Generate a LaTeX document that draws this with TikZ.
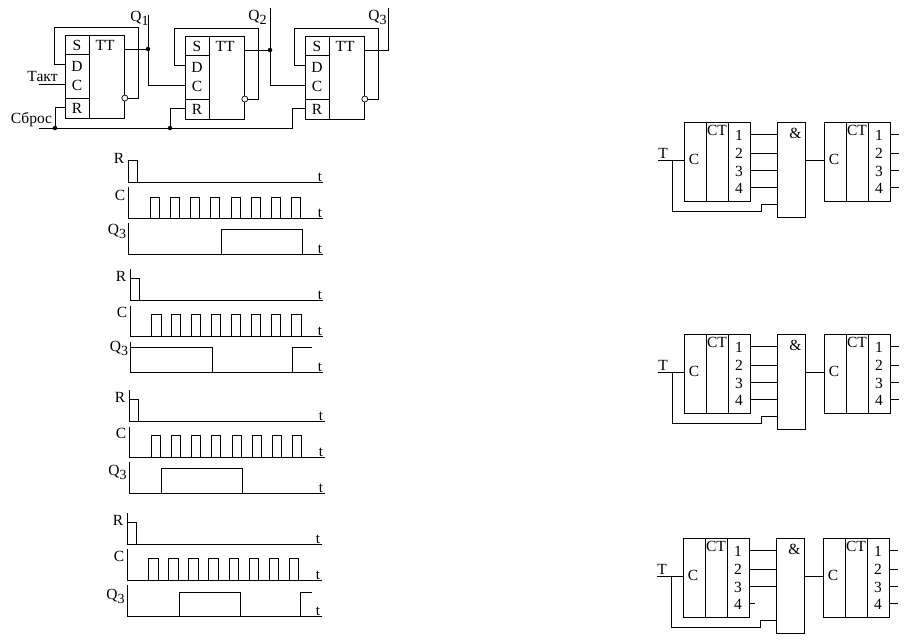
\documentclass[tikz,border=0pt]{standalone}
\usepackage{fontspec}
\setmainfont{Liberation Serif}
\usetikzlibrary{positioning,calc}
\tikzstyle{wire} = [line width=0.8pt,color=black]
\tikzstyle{lbl} = [inner sep=0pt, font=\fontsize{15.5}{15.5}\selectfont]
\tikzstyle{tlbl} = [inner sep=0pt, font=\fontsize{15}{15}\selectfont]
\tikzstyle{ffbox} = [rectangle, draw, line width=0.8pt, anchor=north west, inner sep=0pt, minimum width=59pt, minimum height=83pt]
\tikzstyle{ctrbox} = [rectangle, draw, line width=0.8pt, anchor=north west, inner sep=0pt, minimum width=66pt, minimum height=79pt]
\tikzstyle{andbox} = [rectangle, draw, line width=0.8pt, anchor=north west, inner sep=0pt, minimum width=28pt, minimum height=95pt]
\tikzstyle{junction} = [circle, fill=black, inner sep=0pt, minimum size=4.5pt]
\tikzstyle{bubble} = [circle, draw, fill=white, line width=0.7pt, inner sep=0pt, minimum size=6pt]
\newcommand{\qsub}[1]{Q\raisebox{-4pt}{\fontsize{14}{14}\selectfont #1}}

\begin{document}
\begin{tikzpicture}[x=1pt,y=-1pt]
\useasboundingbox (0,0) rectangle (910,641);

% trigger chain
\foreach \n/\fx/\fy in {1/65/35,2/185/36,3/305/36} {
  \node[ffbox] (ff\n) at (\fx,\fy) {};
  \draw[wire] ($(ff\n.north west)+(24.5,0)$) -- ($(ff\n.south west)+(24.5,0)$);
  \draw[wire] ($(ff\n.north west)+(0,19.5)$) -- ($(ff\n.north west)+(24.5,19.5)$);
  \draw[wire] ($(ff\n.north west)+(0,63)$) -- ($(ff\n.north west)+(24.5,63)$);
  \foreach \txt/\xo/\yo in {S/12/10,TT/40/10,D/12/31,C/12/50,R/12/73} {
    \node[lbl] (ff\n\txt) at ($(ff\n.north west)+(\xo,\yo)$) {\txt};
  }
  \coordinate (d\n) at ($(ff\n.north west)+(0,29)$);
  \coordinate (c\n) at ($(ff\n.north west)+(0,49)$);
  \coordinate (r\n) at ($(ff\n.north west)+(0,72)$);
  \coordinate (q\n) at ($(ff\n.north east)+(0,14)$);
  \node[bubble] (nq\n) at ($(ff\n.north east)+(0,63)$) {};
  \draw[wire] (nq\n.east) -- ++(10,0) -- ++(0,-71) -- ++(-84,0) |- (d\n);
}
\node[junction] (j1) at (148,49) {};
\node[junction] (j2) at (270,50) {};
\node[junction] (j3) at (55,128) {};
\node[junction] (j4) at (170,128) {};
\coordinate (qe1) at (148,15);
\coordinate (qe2) at (270,8);
\coordinate (qe3) at (388,8);
\coordinate (tk) at (39,84);
\coordinate (rs) at (39,128);
\draw[wire] (q1) -- (j1);
\draw[wire] (q2) -- (j2);
\draw[wire] (j1) -- (qe1);
\draw[wire] (j2) -- (qe2);
\draw[wire] (q3) -| (qe3);
\draw[wire] (j1) |- (c2);
\draw[wire] (j2) |- (c3);
\draw[wire] (tk) -- (c1);
\draw[wire] (rs) -| ($(r3)+(-13,0)$) -- (r3);
\draw[wire] (j3) |- (r1);
\draw[wire] (j4) |- (r2);
\node[lbl] (takt) at (42.5,76) {Такт};
\node[lbl] (sbros) at (31.5,120) {Сброс};
\node[lbl] (q1l) at (139.5,18) {\qsub{1}};
\node[lbl] (q2l) at (257.5,17) {\qsub{2}};
\node[lbl] (q3l) at (377.5,17) {\qsub{3}};

% timing charts
\foreach \g/\ax/\ex/\rt/\rh/\rb/\ct/\ch/\cb/\qt/\qb/\tx/\plist in {
  1/128/323/160/160/182/187/197/218/223/254/320/{150,170,190,210.3,231,251,271,291.3},
  2/130/323/269/278/300/306/314/336/342/372/320/{151.7,171.3,191.3,211.3,231.3,251.3,271.3,291.7},
  3/129/325/390/399/421/427/435/457/462/493/321/{151,171,191,211,232,252,272,292},
  4/127/322/513/522/544/549/558/580/585/616/318/{148.7,168.7,188.7,208.7,229.3,249.3,269.3,289.3}} {
  \draw[wire] (\ax,\rt) |- (\ex,\rb);
  \draw[wire] (\ax,\rh) -- (\ax+9,\rh) -- (\ax+9,\rb);
  \draw[wire] (\ax,\ct) |- (\ex,\cb);
  \foreach \p in \plist {
    \draw[wire] (\p,\cb) |- (\p+9.3,\ch) -- (\p+9.3,\cb);
  }
  \draw[wire] (\ax,\qt) |- (\ex,\qb);
  \node[lbl] (lr\g) at (\ax-9,\rh-2) {R};
  \node[lbl] (lc\g) at (\ax-8,\ch-2) {C};
  \node[tlbl] (tr\g) at (\tx,\rb-5) {t};
  \node[tlbl] (tc\g) at (\tx,\cb-5) {t};
  \node[tlbl] (tq\g) at (\tx,\qb-5) {t};
}
\draw[wire] (221,254) |- (302,229) -- (302,254);
\draw[wire] (130,347) -| (212,372);
\draw[wire] (292,372) |- (312,347);
\draw[wire] (161,493) |- (242,468) -- (242,493);
\draw[wire] (179,616) |- (240,592) -- (240,616);
\draw[wire] (300,616) |- (312,592);
\node[lbl] (lq1) at (117,231) {\qsub{3}};
\node[lbl] (lq2) at (119,348) {\qsub{3}};
\node[lbl] (lq3) at (117.5,472) {\qsub{3}};
\node[lbl] (lq4) at (115.5,596) {\qsub{3}};

% counters with the gate
\foreach \n/\dx/\dy in {1/0/0,2/0/212,3/-1/416} {
  \begin{scope}[shift={(\dx,\dy)}]
    \node[ctrbox] (cta\n) at (684,122) {};
    \node[ctrbox] (ctb\n) at (824,122) {};
    \node[andbox] (and\n) at (777,122) {};
    \foreach \b in {a,b} {
      \draw[wire] ($(ct\b\n.north west)+(22,0)$) -- ($(ct\b\n.south west)+(22,0)$);
      \draw[wire] ($(ct\b\n.north west)+(44,0)$) -- ($(ct\b\n.south west)+(44,0)$);
      \node[lbl] (c\b\n) at ($(ct\b\n.north west)+(10,37)$) {C};
      \node[lbl] (t\b\n) at ($(ct\b\n.north west)+(33,8)$) {CT};
      \coordinate (in\b\n) at ($(ct\b\n.north west)+(0,38)$);
      \foreach \k/\yo/\yt in {1/12/13,2/31/31,3/48/49,4/65/66} {
        \node[lbl] (num\b\n\k) at ($(ct\b\n.north west)+(55,\yt)$) {\k};
        \coordinate (o\b\n\k) at ($(ct\b\n.north east)+(0,\yo)$);
      }
    }
    \node[lbl] (amp\n) at ($(and\n.north)+(4,11)$) {\&};
    \node[lbl] (tin\n) at (663,153) {T};
    \coordinate (tl\n) at (658,160);
    \coordinate (tb\n) at (672,160);
    \coordinate (ga\n) at ($(and\n.north west)+(0,82)$);
  \end{scope}
  \draw[wire] (tl\n) -- (ina\n);
  \draw[wire] (tb\n) -- ++(0,51) -- ++(89,0) |- (ga\n);
  \draw[wire] (and\n.east |- inb\n) -- (inb\n);
  \foreach \k in {1,2,3,4} {
    \draw[wire] (ob\n\k) -- ++(8,0);
  }
  \foreach \k in {1,2,3} {
    \draw[wire] (oa\n\k) -- (and\n.west |- oa\n\k);
  }
}
\draw[wire] (oa14) -- (and1.west |- oa14);
\draw[wire] (oa24) -- (and2.west |- oa24);
\draw[wire] (oa34) -- ++(5,0);
\end{tikzpicture}
\end{document}
